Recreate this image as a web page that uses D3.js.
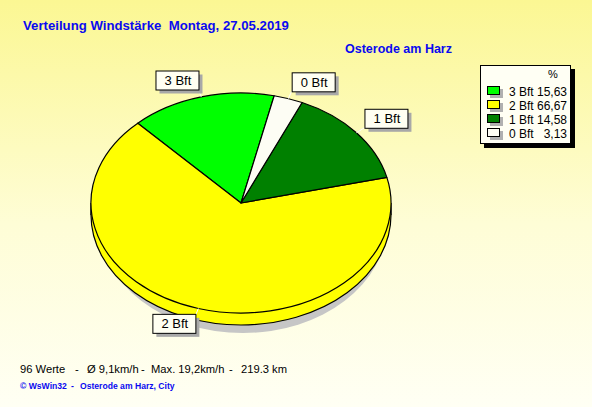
<!DOCTYPE html>
<head>
<meta charset="utf-8">
<script src="https://d3js.org/d3.v7.min.js"></script>
<style>
body { margin: 0; background: #fffff0; }
svg { display: block; }
text { font-family: Arial, "Liberation Sans", sans-serif; white-space: pre; }
</style>
</head>
<body>
<svg width="592" height="407"></svg>
<script>

// data
var categories = ["3 Bft", "2 Bft", "1 Bft", "0 Bft"];
var percents = [15.63, 66.67, 14.58, 3.13];
var sliceColors = ["#00ff00", "#ffff00", "#008000", "#fdfdf4"];

var title = "Verteilung Windstärke  Montag, 27.05.2019";
var station = "Osterode am Harz";
var footerParts = ["96 Werte", "-", "Ø 9,1km/h", "-", "Max. 19,2km/h", "-", "219.3 km"];
var footerX = [20, 75, 87, 141, 151, 229, 241];
var creditParts = ["© WsWin32", "-", "Osterode am Harz, City"];
var creditX = [20, 71, 80];

var svg = d3.select("svg");
var width = 592, height = 407;

// background gradient
var defs = svg.append("defs");
var grad = defs.append("linearGradient").attr("id", "bg")
    .attr("x1", 0).attr("y1", 0).attr("x2", 0).attr("y2", 1);
grad.append("stop").attr("offset", "0%").attr("stop-color", "#fbf793");
grad.append("stop").attr("offset", "55%").attr("stop-color", "#fefdd6");
grad.append("stop").attr("offset", "100%").attr("stop-color", "#fffff4");
svg.append("rect").attr("width", width).attr("height", height).attr("fill", "url(#bg)");

// titles
svg.append("text").attr("x", 23).attr("y", 30)
    .attr("fill", "#0a0af0").attr("font-weight", "bold").attr("font-size", "13.2px")
    .text(title);
svg.append("text").attr("x", 345).attr("y", 53)
    .attr("fill", "#0a0af0").attr("font-weight", "bold").attr("font-size", "12.5px")
    .text(station);

// pie (elliptic, with a bit of depth)
var cx = 241, cy = 203, rx = 150, ry = 110, depth = 12;
var sy = ry / rx;
var a0 = 12.77 * Math.PI / 180;

var pie = d3.pie().sort(null)
    .startAngle(a0).endAngle(a0 - 2 * Math.PI)
    .value(function(d) { return d; });
var arcs = pie(percents);

var arc = d3.arc().innerRadius(0).outerRadius(rx);

// shadow
svg.append("ellipse").attr("cx", cx + 2).attr("cy", cy + depth + 8)
    .attr("rx", rx - 6).attr("ry", ry).attr("fill", "#c6c6c6");

// side (only the front is visible, it belongs to 2 Bft)
svg.append("ellipse").attr("cx", cx).attr("cy", cy + depth)
    .attr("rx", rx).attr("ry", ry)
    .attr("fill", sliceColors[1]).attr("stroke", "#000").attr("stroke-width", 1.2);
svg.append("rect").attr("x", cx - rx).attr("y", cy).attr("width", 2 * rx).attr("height", depth)
    .attr("fill", sliceColors[1]);
svg.append("line").attr("x1", cx - rx).attr("x2", cx - rx).attr("y1", cy).attr("y2", cy + depth)
    .attr("stroke", "#000").attr("stroke-width", 1.2);
svg.append("line").attr("x1", cx + rx).attr("x2", cx + rx).attr("y1", cy).attr("y2", cy + depth)
    .attr("stroke", "#000").attr("stroke-width", 1.2);

var pieTop = svg.append("g")
    .attr("transform", "translate(" + cx + "," + cy + ") scale(1," + sy + ")");
pieTop.selectAll("path")
    .data(arcs)
    .enter().append("path")
    .attr("d", arc)
    .attr("fill", function(d, i) { return sliceColors[i]; })
    .attr("stroke", "#000")
    .attr("stroke-width", 1.2)
    .attr("stroke-linejoin", "round")
    .attr("vector-effect", "non-scaling-stroke");

// labels with leader lines and boxes
var boxW = 43, boxH = 19;
arcs.forEach(function(d, i) {
  var m = (d.startAngle + d.endAngle) / 2;
  var sx = Math.sin(m), syy = -Math.cos(m);
  var ex = cx + rx * sx, ey = cy + ry * syy;
  var lx = cx + rx * 1.07 * sx, ly = cy + ry * 1.07 * syy;
  svg.append("line").attr("x1", ex).attr("y1", ey).attr("x2", lx).attr("y2", ly)
      .attr("stroke", "#ffffff").attr("stroke-width", 1);
  var bx = sx < 0 ? lx - boxW : lx;
  var by = syy < 0 ? ly - boxH : ly - 2;
  svg.append("rect").attr("x", bx + 4).attr("y", by + 4).attr("width", boxW).attr("height", boxH)
      .attr("fill", "#a8a8a8");
  svg.append("rect").attr("x", bx + 0.5).attr("y", by + 0.5).attr("width", boxW).attr("height", boxH)
      .attr("fill", "#fffff2").attr("stroke", "#000").attr("stroke-width", 1);
  svg.append("text").attr("x", bx + boxW / 2 + 1).attr("y", by + boxH / 2 + 5)
      .attr("text-anchor", "middle").attr("font-size", "13px").attr("fill", "#000")
      .text(categories[i]);
});

// legend
var lg = svg.append("g").attr("transform", "translate(480,65)");
lg.append("rect").attr("x", 4).attr("y", 4).attr("width", 91).attr("height", 79).attr("fill", "#000");
lg.append("rect").attr("x", 0.5).attr("y", 0.5).attr("width", 90).attr("height", 78)
    .attr("fill", "#fffff4").attr("stroke", "#000");
lg.append("text").attr("x", 73).attr("y", 13).attr("text-anchor", "middle")
    .attr("font-size", "11px").text("%");
categories.forEach(function(c, i) {
  var y = 26 + i * 14;
  lg.append("rect").attr("x", 10).attr("y", y - 2).attr("width", 13).attr("height", 9).attr("fill", "#b0b0b0");
  lg.append("rect").attr("x", 7.5).attr("y", y - 4.5).attr("width", 12).attr("height", 8)
      .attr("fill", sliceColors[i]).attr("stroke", "#000");
  lg.append("text").attr("x", 29).attr("y", y + 4.5).attr("font-size", "12px").text(c);
  lg.append("text").attr("x", 87).attr("y", y + 4.5).attr("text-anchor", "end").attr("font-size", "12px")
      .text(d3.format(".2f")(percents[i]).replace(".", ","));
});

// footer
footerParts.forEach(function(t, i) {
  svg.append("text").attr("x", footerX[i]).attr("y", 373).attr("font-size", "11.2px").attr("fill", "#000")
      .text(t);
});
creditParts.forEach(function(t, i) {
  svg.append("text").attr("x", creditX[i]).attr("y", 389).attr("font-size", "8.6px").attr("font-weight", "bold")
      .attr("fill", "#0a0af0").text(t);
});

</script>
</body>
